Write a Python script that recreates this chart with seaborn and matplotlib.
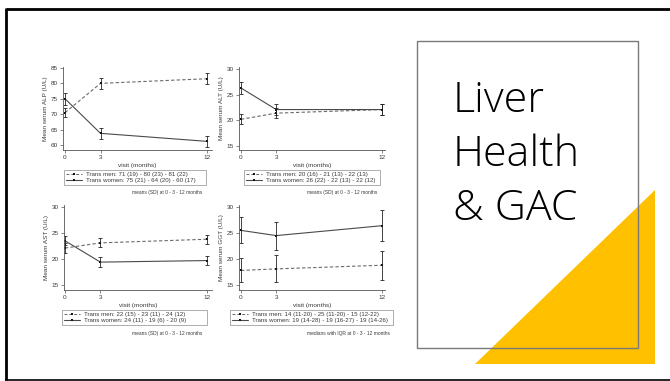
import matplotlib
matplotlib.use("Agg")
import matplotlib.pyplot as plt
import pandas as pd
import seaborn as sns
from matplotlib.lines import Line2D
from matplotlib.patches import Polygon, Rectangle

sns.set_theme(style="ticks")
plt.rcParams["font.family"] = ["Liberation Sans", "DejaVu Sans"]

# ---- data -------------------------------------------------------------
visit = [0, 3, 12]
groups = ["Trans men", "Trans women"]

alp_men = [70.5, 80.0, 81.5]
alp_men_lo = [69.0, 78.2, 79.8]
alp_men_hi = [72.0, 81.8, 83.4]
alp_women = [75.0, 63.8, 61.2]
alp_women_lo = [73.0, 62.0, 59.4]
alp_women_hi = [77.0, 65.6, 63.0]

alt_men = [20.2, 21.4, 22.1]
alt_men_lo = [19.2, 20.4, 21.0]
alt_men_hi = [21.2, 22.4, 23.2]
alt_women = [26.3, 22.1, 22.1]
alt_women_lo = [25.2, 21.1, 21.0]
alt_women_hi = [27.4, 23.1, 23.2]

ast_men = [22.1, 23.1, 23.8]
ast_men_lo = [21.1, 22.3, 22.9]
ast_men_hi = [23.1, 24.0, 24.7]
ast_women = [23.5, 19.4, 19.7]
ast_women_lo = [22.6, 18.5, 18.8]
ast_women_hi = [24.4, 20.3, 20.6]

ggt_men = [17.8, 18.1, 18.8]
ggt_men_lo = [15.5, 15.6, 16.0]
ggt_men_hi = [20.1, 20.7, 21.6]
ggt_women = [25.5, 24.5, 26.4]
ggt_women_lo = [23.0, 21.8, 23.4]
ggt_women_hi = [28.0, 27.2, 29.4]

ylabels = ["Mean serum ALP (U/L)", "Mean serum ALT (U/L)",
           "Mean serum AST (U/L)", "Mean serum GGT (U/L)"]
legend_men = ["Trans men: 71 (19) - 80 (23) - 81 (22)",
              "Trans men: 20 (16) - 21 (13) - 22 (13)",
              "Trans men: 22 (15) - 23 (11) - 24 (12)",
              "Trans men: 14 (11-20) - 25 (11-20) - 15 (12-22)"]
legend_women = ["Trans women: 75 (21) - 64 (20) - 60 (17)",
                "Trans women: 26 (22) - 22 (13) - 22 (12)",
                "Trans women: 24 (11) - 19 (6) - 20 (9)",
                "Trans women: 19 (14-28) - 19 (16-27) - 19 (14-26)"]
footnotes = ["means (SD) at 0 - 3 - 12 months",
             "means (SD) at 0 - 3 - 12 months",
             "means (SD) at 0 - 3 - 12 months",
             "medians with IQR at 0 - 3 - 12 months"]
yticks = [[60, 65, 70, 75, 80, 85], [15, 20, 25, 30],
          [15, 20, 25, 30], [15, 20, 25, 30]]

series = [
    (alp_men, alp_men_lo, alp_men_hi, alp_women, alp_women_lo, alp_women_hi),
    (alt_men, alt_men_lo, alt_men_hi, alt_women, alt_women_lo, alt_women_hi),
    (ast_men, ast_men_lo, ast_men_hi, ast_women, ast_women_lo, ast_women_hi),
    (ggt_men, ggt_men_lo, ggt_men_hi, ggt_women, ggt_women_lo, ggt_women_hi),
]

# ---- layout (pixels on a 670 x 381 canvas) ------------------------------
W, H = 670, 381
fig = plt.figure(figsize=(W / 100, H / 100), dpi=100)
fig.patch.set_facecolor("white")


def fbox(x0, y0, x1, y1):
    return [x0 / W, 1 - y1 / H, (x1 - x0) / W, (y1 - y0) / H]


axes_px = [(63, 67, 212, 150), (239, 67, 385, 150),
           (64, 205, 212, 290), (239, 205, 385, 290)]
xlims = [(-0.17, 12.42), (-0.17, 12.26), (-0.08, 12.42), (-0.17, 12.26)]
ylims = [(58.4, 85.3), (14.22, 30.39), (14.04, 30.38), (14.04, 30.38)]
legend_px = [(64, 170, 206, 186), (244, 170, 380, 187),
             (62, 310, 207, 328), (230, 310, 393, 328)]
foot_px = [(202, 193), (377, 193), (202, 334), (390, 334)]

MEN_C = "#6a6a6a"
WOMEN_C = "#4a4a4a"
TXT_C = "#3a3a3a"
FS = 4.6
LFS = 4.4
MS = 2.0

for i in range(4):
    men, men_lo, men_hi, wom, wom_lo, wom_hi = series[i]
    df = pd.DataFrame({
        "visit": visit * 2,
        "value": men + wom,
        "group": [groups[0]] * 3 + [groups[1]] * 3,
    })
    ax = fig.add_axes(fbox(*axes_px[i]))
    sns.lineplot(data=df, x="visit", y="value", hue="group", style="group",
                 palette={groups[0]: MEN_C, groups[1]: WOMEN_C},
                 dashes={groups[0]: (3, 2), groups[1]: ""},
                 markers={groups[0]: "s", groups[1]: "s"},
                 markersize=MS, markeredgewidth=0, linewidth=0.8,
                 legend=False, ax=ax)
    for line in ax.get_lines()[:2]:
        line.set_markerfacecolor("#111111")
    for vals, lo, hi in [(men, men_lo, men_hi), (wom, wom_lo, wom_hi)]:
        yerr = [[v - l for v, l in zip(vals, lo)],
                [h - v for v, h in zip(vals, hi)]]
        ax.errorbar(visit, vals, yerr=yerr, fmt="none", ecolor="#222222",
                    elinewidth=0.6, capsize=1.2, capthick=0.6)
    ax.set_xlim(*xlims[i])
    ax.set_ylim(*ylims[i])
    ax.set_xticks(visit)
    ax.set_yticks(yticks[i])
    ax.set_xlabel("visit (months)", fontsize=FS, color=TXT_C, labelpad=2.5)
    ax.set_ylabel(ylabels[i], fontsize=FS, color=TXT_C, labelpad=2)
    ax.tick_params(axis="both", labelsize=FS, colors="#555555",
                   labelcolor=TXT_C, length=2, width=0.5, pad=1.5)
    sns.despine(ax=ax)
    for s in ("left", "bottom"):
        ax.spines[s].set_linewidth(0.6)
        ax.spines[s].set_color("#555555")
    ax.set_facecolor("white")

    handles = [
        Line2D([], [], color=MEN_C, ls=(0, (3, 2)), lw=0.7, marker="s",
               markersize=MS, markerfacecolor="#111111", markeredgewidth=0),
        Line2D([], [], color=WOMEN_C, ls="-", lw=0.8, marker="s",
               markersize=MS, markerfacecolor="#111111", markeredgewidth=0),
    ]
    lx0, ly0, lx1, ly1 = legend_px[i]
    leg = ax.legend(handles, [legend_men[i], legend_women[i]],
                    loc="upper left",
                    bbox_to_anchor=(lx0 / W, 1 - ly0 / H, (lx1 - lx0) / W, 0),
                    bbox_transform=fig.transFigure, mode="expand",
                    fontsize=LFS, frameon=True, fancybox=False,
                    handlelength=2.7, handletextpad=0.6, borderpad=0.3,
                    labelspacing=0.12, borderaxespad=0)
    leg.get_frame().set_edgecolor("#888888")
    leg.get_frame().set_linewidth(0.6)
    for t in leg.get_texts():
        t.set_color(TXT_C)
    fx, fy = foot_px[i]
    fig.text(fx / W, 1 - fy / H, footnotes[i], fontsize=3.5, color=TXT_C,
             ha="right", va="center")

# ---- title panel ------------------------------------------------------
tri = Polygon([(655 / W, 1 - 190 / H), (475 / W, 1 - 364 / H),
               (655 / W, 1 - 364 / H)], closed=True, transform=fig.transFigure,
              facecolor="#FFC000", edgecolor="none", zorder=1)
fig.patches.append(tri)
box = Rectangle((417 / W, 1 - 348 / H), (638 - 417) / W, (348 - 41) / H,
                transform=fig.transFigure, facecolor="none",
                edgecolor="#7a7a7a", linewidth=1.0, zorder=2)
fig.patches.append(box)

for txt, base in [("Liver", 112), ("Health", 166), ("& GAC", 220)]:
    fig.text(453 / W, 1 - base / H, txt, fontsize=31, color="black",
             family=["Open Sans", "DejaVu Sans"], fontweight="light",
             ha="left", va="baseline")

# ---- slide frame ------------------------------------------------------
frame_kw = dict(transform=fig.transFigure, color="black", solid_capstyle="butt")
fig.lines.append(Line2D([5.5 / W, 1], [1 - 8.5 / H] * 2, lw=2.0, **frame_kw))
fig.lines.append(Line2D([5.5 / W] * 2, [1 - 8 / H, 1 - 380 / H], lw=2.0,
                        **frame_kw))
fig.lines.append(Line2D([5 / W, 1], [1 - 380 / H] * 2, lw=1.2, **frame_kw))

fig.savefig("out.png", dpi=100, facecolor="white")
